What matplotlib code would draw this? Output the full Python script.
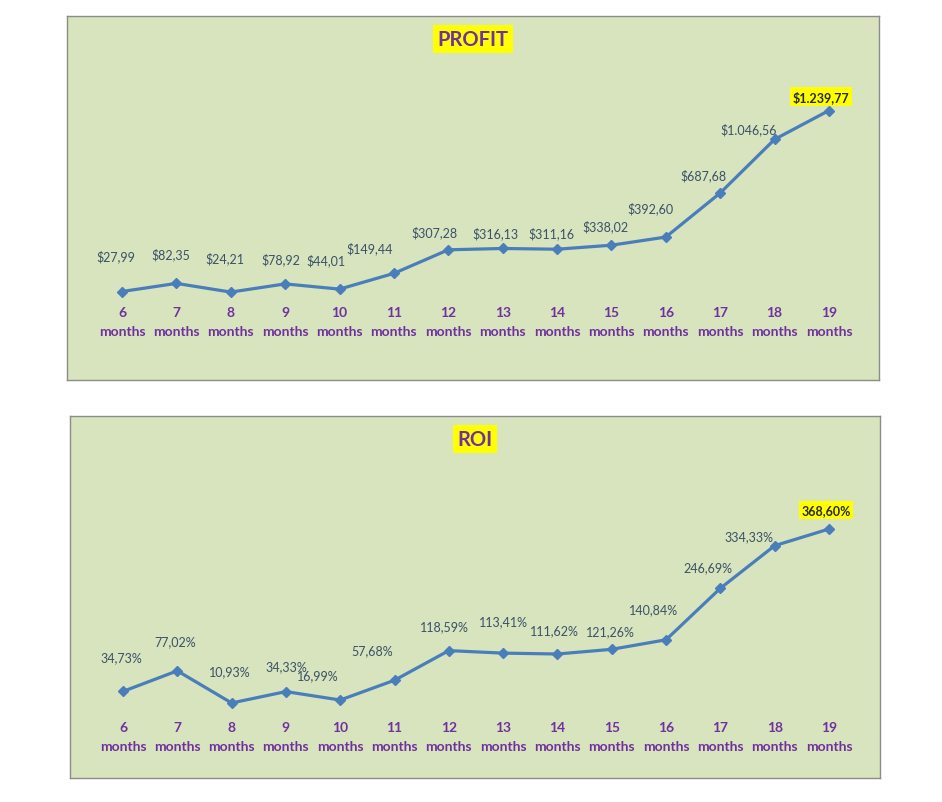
import matplotlib
matplotlib.use("Agg")
import matplotlib.pyplot as plt
import matplotlib.transforms as mtransforms

plt.rcParams['font.family'] = ['Lato', 'DejaVu Sans']

# data
months = [6, 7, 8, 9, 10, 11, 12, 13, 14, 15, 16, 17, 18, 19]
profit = [27.99, 82.35, 24.21, 78.92, 44.01, 149.44, 307.28, 316.13,
          311.16, 338.02, 392.60, 687.68, 1046.56, 1239.77]
roi = [34.73, 77.02, 10.93, 34.33, 16.99, 57.68, 118.59, 113.41,
       111.62, 121.26, 140.84, 246.69, 334.33, 368.60]

# label offsets in pixels (dx, dy up) - labels were hand placed in the original
profit_offsets = [(-6, 36), (-6, 30), (-6, 34), (-4, 25), (-14, 29), (-24, 26), (-14, 18),
                  (-7, 16), (-6, 16), (-6, 19), (-15, 29), (-17, 18), (-26, 11), (-8, 14)]
roi_offsets = [(-2, 34), (-2, 30), (-2, 32), (0, 25), (-22, 25), (-22, 30), (-4, 24),
               (0, 32), (-3, 24), (-1, 18), (-13, 31), (-12, 21), (-26, 10), (-3, 19)]

BG = '#D7E4BD'
LINE = '#4A7EBB'
PURPLE = '#7030A0'
LABEL = '#3B5168'
W, H = 942, 803


def fmt_money(v):
    s = f"{v:,.2f}"
    s = s.replace(',', 'X').replace('.', ',').replace('X', '.')
    return '$' + s


def fmt_pct(v):
    return f"{v:.2f}".replace('.', ',') + '%'


def panel(rect, values, offsets, fmt, title, xlim, ylim, cat_y):
    x0, y0, x1, y1 = rect  # pixel box (top-left origin)
    ax = fig.add_axes([x0 / W, (H - y1) / H, (x1 - x0) / W, (y1 - y0) / H])
    ax.set_facecolor(BG)
    for sp in ax.spines.values():
        sp.set_color('#8C8C8C')
        sp.set_linewidth(1)
    ax.set_xticks([])
    ax.set_yticks([])
    ax.set_xlim(*xlim)
    ax.set_ylim(*ylim)

    xs = list(range(len(values)))
    ax.plot(xs, values, color=LINE, lw=2.3, marker='D', ms=5.5,
            markerfacecolor=LINE, markeredgecolor=LINE, solid_joinstyle='round')

    for i, v in enumerate(values):
        dx, dy = offsets[i]
        last = i == len(values) - 1
        ax.annotate(fmt(v), (xs[i], v), xytext=(dx, dy), textcoords='offset pixels',
                    ha='center', va='center', fontsize=9,
                    color='#2A2A2A' if last else LABEL,
                    fontweight='bold' if last else 'normal',
                    bbox=dict(boxstyle='square,pad=0.22', fc='#FFFF00', ec='none') if last else None)

    trans = mtransforms.blended_transform_factory(ax.transData, ax.transAxes)
    for i, m in enumerate(months):
        ax.text(xs[i], cat_y[0], str(m), transform=trans, ha='center', va='center',
                fontsize=10, fontweight='bold', color=PURPLE)
        ax.text(xs[i], cat_y[1], 'months', transform=trans, ha='center', va='center',
                fontsize=10, fontweight='bold', color=PURPLE)

    ax.text(0.5, 0.937, title, transform=ax.transAxes, ha='center', va='center',
            fontsize=14.5, fontweight='bold', color=PURPLE,
            bbox=dict(boxstyle='square,pad=0.2', fc='#FFFF00', ec='none'))
    return ax


fig = plt.figure(figsize=(W / 100, H / 100), dpi=100)
fig.patch.set_facecolor('white')

panel((67, 17, 879, 381), profit, profit_offsets, fmt_money, 'PROFIT',
      (-1.011, 13.92), (-564.4, 1872.5), (0.187, 0.135))
panel((70, 417, 880, 779), roi, roi_offsets, fmt_pct, 'ROI',
      (-0.976, 13.94), (-143.3, 600.9), (0.142, 0.089))

fig.savefig('out.png', dpi=100)
